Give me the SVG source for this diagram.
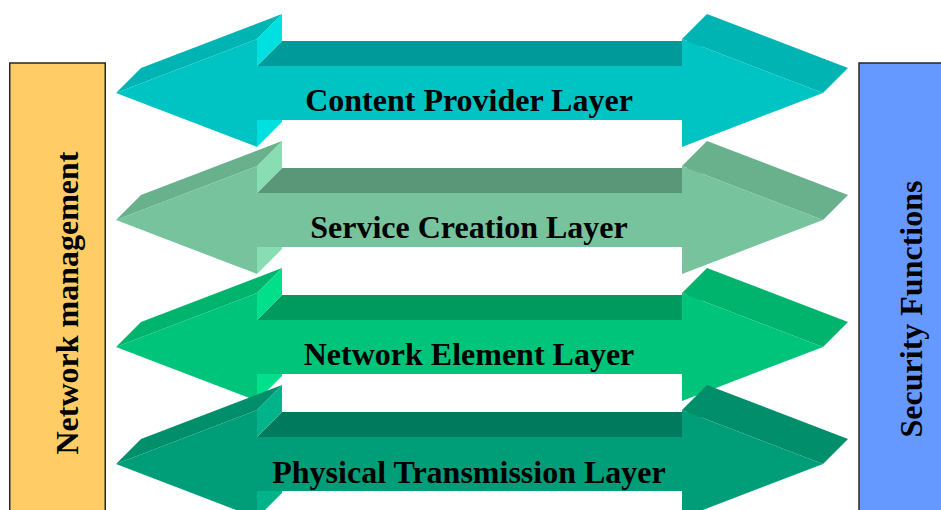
<svg xmlns="http://www.w3.org/2000/svg" xmlns:xlink="http://www.w3.org/1999/xlink" width="941" height="510" viewBox="0 0 941 510">
  <style>
    text { font-family: "Liberation Serif", "Times New Roman", serif; font-weight: bold; font-size: 32px; fill: #000; text-anchor: middle; }
    .panel { stroke: #262626; stroke-width: 1.5; }
    /* per-layer face shades: top of shaft, head flanges, head slopes, front face */
    .l1 .top { fill: #009A9A; } .l1 .flange { fill: #00E0E0; } .l1 .slope { fill: #00B4B4; } .l1 .front { fill: #00C4C4; }
    .l2 .top { fill: #5A9678; } .l2 .flange { fill: #88DDB3; } .l2 .slope { fill: #69B08D; } .l2 .front { fill: #77C39D; }
    .l3 .top { fill: #009A5E; } .l3 .flange { fill: #00E08A; } .l3 .slope { fill: #00B46E; } .l3 .front { fill: #00C47A; }
    .l4 .top { fill: #007A5C; } .l4 .flange { fill: #00B38A; } .l4 .slope { fill: #008E6B; } .l4 .front { fill: #009E78; }
  </style>
  <defs>
    <!-- double-headed block arrow, extruded up and to the right; origin on the centre line -->
    <polygon id="shaftTop" points="257,-27 282,-52 707,-52 682,-27"/>
    <polygon id="flangeUp" points="257,-54 282,-79 282,-52 257,-27"/>
    <polygon id="flangeDown" points="257,27 282,2 282,29 257,54"/>
    <polygon id="slopeL" points="116,0 257,-54 282,-79 141,-25"/>
    <polygon id="slopeR" points="682,-54 707,-79 848,-25 823,0"/>
    <polygon id="frontFace" points="116,0 257,-54 257,-27 682,-27 682,-54 823,0 682,54 682,27 257,27 257,54"/>
  </defs>

  <!-- side panels -->
  <g id="network-management">
    <rect class="panel" x="9.75" y="63" width="95.5" height="470" fill="#FFCC66"/>
    <text transform="translate(78,303) rotate(-90)">Network management</text>
  </g>
  <g id="security-functions">
    <rect class="panel" x="859" y="63" width="100" height="470" fill="#6699FF"/>
    <text transform="translate(922,309) rotate(-90)">Security Functions</text>
  </g>

  <!-- layers, drawn top to bottom so each overlaps the one above -->
  <g id="content-provider-layer" class="l1" transform="translate(0,93)">
    <use xlink:href="#shaftTop" class="top"/>
    <use xlink:href="#flangeUp" class="flange"/>
    <use xlink:href="#flangeDown" class="flange"/>
    <use xlink:href="#slopeL" class="slope"/>
    <use xlink:href="#slopeR" class="slope"/>
    <use xlink:href="#frontFace" class="front"/>
    <text x="469" y="18">Content Provider Layer</text>
  </g>
  <g id="service-creation-layer" class="l2" transform="translate(0,220)">
    <use xlink:href="#shaftTop" class="top"/>
    <use xlink:href="#flangeUp" class="flange"/>
    <use xlink:href="#flangeDown" class="flange"/>
    <use xlink:href="#slopeL" class="slope"/>
    <use xlink:href="#slopeR" class="slope"/>
    <use xlink:href="#frontFace" class="front"/>
    <text x="469" y="18">Service Creation Layer</text>
  </g>
  <g id="network-element-layer" class="l3" transform="translate(0,347)">
    <use xlink:href="#shaftTop" class="top"/>
    <use xlink:href="#flangeUp" class="flange"/>
    <use xlink:href="#flangeDown" class="flange"/>
    <use xlink:href="#slopeL" class="slope"/>
    <use xlink:href="#slopeR" class="slope"/>
    <use xlink:href="#frontFace" class="front"/>
    <text x="469" y="18">Network Element Layer</text>
  </g>
  <g id="physical-transmission-layer" class="l4" transform="translate(0,464)">
    <use xlink:href="#shaftTop" class="top"/>
    <use xlink:href="#flangeUp" class="flange"/>
    <use xlink:href="#flangeDown" class="flange"/>
    <use xlink:href="#slopeL" class="slope"/>
    <use xlink:href="#slopeR" class="slope"/>
    <use xlink:href="#frontFace" class="front"/>
    <text x="469" y="19">Physical Transmission Layer</text>
  </g>
</svg>
